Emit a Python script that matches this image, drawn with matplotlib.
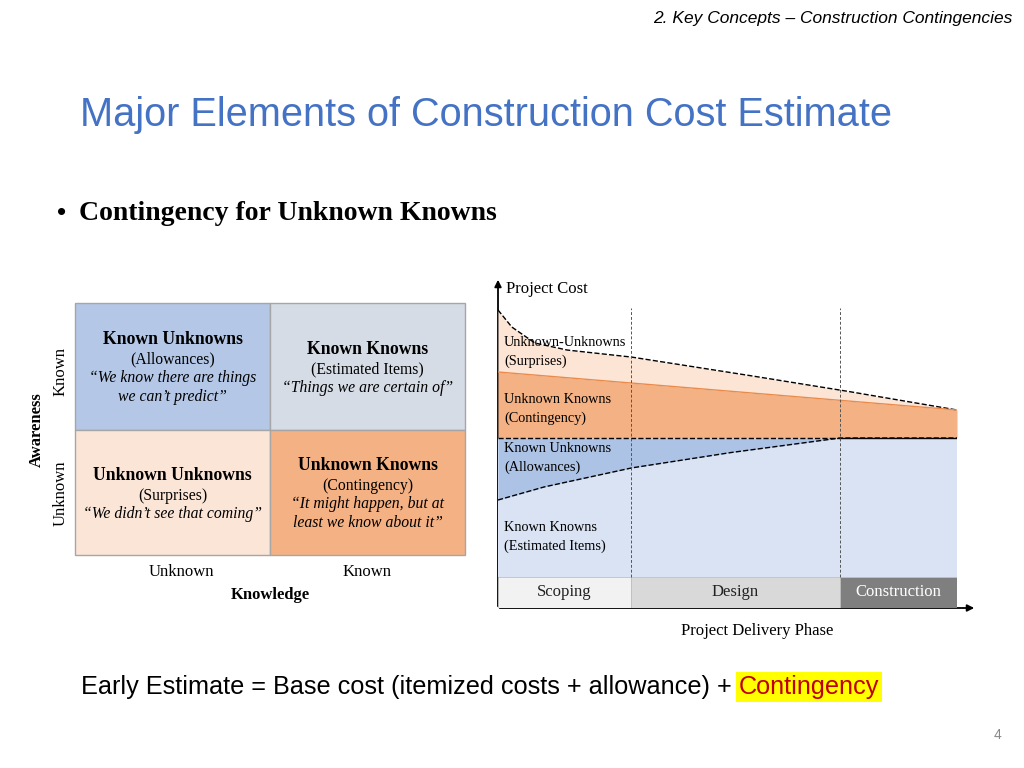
import matplotlib.pyplot as plt
from matplotlib.patches import Rectangle
import numpy as np

# phase boundaries (fraction of delivery timeline)
phases = ["Scoping", "Design", "Construction"]
phase_edges = [0.0, 0.29, 0.745, 1.0]
phase_colors = ["#f2f2f2", "#d9d9d9", "#7f7f7f"]
phase_text = ["#222222", "#222222", "white"]

# cost curves (arbitrary units)
base_level = 139
x_allow = [0.0, 0.1, 0.29, 0.5, 0.745, 1.0]
allow_low = [77, 90, 109, 124, 139, 139]
x_cont = [0.0, 1.0]
cont_top = [205, 167]
x_surp = [0.0, 0.03, 0.08, 0.15, 0.29, 0.5, 0.745, 1.0]
surp_top = [267, 250, 234, 227, 220, 205, 187, 167]

quad_titles = ["Known Unknowns", "Known Knowns", "Unknown Unknowns", "Unknown Knowns"]
quad_sub = ["(Allowances)", "(Estimated Items)", "(Surprises)", "(Contingency)"]
quad_quote = ["\u201cWe know there are things\nwe can\u2019t predict\u201d",
              "\u201cThings we are certain of\u201d",
              "\u201cWe didn\u2019t see that coming\u201d",
              "\u201cIt might happen, but at\nleast we know about it\u201d"]
quad_colors = ["#b4c7e7", "#d6dce5", "#fbe5d6", "#f4b183"]

SERIF = "Liberation Serif"
SANS = "Liberation Sans"

fig = plt.figure(figsize=(10.24, 7.68), dpi=100)
ax = fig.add_axes([0, 0, 1, 1])
ax.set_xlim(0, 1024)
ax.set_ylim(768, 0)
ax.axis("off")

ax.text(1012, 18, "2. Key Concepts \u2013 Construction Contingencies", ha="right", va="center",
        fontsize=12.5, style="italic", family=SANS)
ax.text(80, 115, "Major Elements of Construction Cost Estimate", ha="left", va="center",
        fontsize=28.6, color="#4472c4", family=SANS)
ax.text(57, 213, "\u2022", ha="left", va="center", fontsize=19, family=SANS)
ax.text(79, 213, "Contingency for Unknown Knowns", ha="left", va="center",
        fontsize=20, weight="bold", family=SERIF)

# 2x2 matrix
xs = [75, 270, 465]
ys = [303, 430, 555]
for i in range(4):
    r, c = divmod(i, 2)
    x0, y0 = xs[c], ys[r]
    ax.add_patch(Rectangle((x0, y0), xs[c + 1] - x0, ys[r + 1] - y0, facecolor=quad_colors[i],
                           edgecolor="#a6a6a6", lw=1))
    cx = (x0 + xs[c + 1]) / 2
    cy = (y0 + ys[r + 1]) / 2
    nq = quad_quote[i].count("\n")
    top = cy - 17 - 10 * nq
    ax.text(cx, top, quad_titles[i], ha="center", va="center", fontsize=12.7, weight="bold", family=SERIF)
    ax.text(cx, top + 20, quad_sub[i], ha="center", va="center", fontsize=11.3, family=SERIF)
    ax.text(cx, top + 39 + 9 * nq, quad_quote[i], ha="center", va="center", fontsize=11.3,
            style="italic", family=SERIF, linespacing=1.3)
ax.text(181, 572, "Unknown", ha="center", va="center", fontsize=12, family=SERIF)
ax.text(367, 572, "Known", ha="center", va="center", fontsize=12, family=SERIF)
ax.text(270, 595, "Knowledge", ha="center", va="center", fontsize=12, weight="bold", family=SERIF)
ax.text(61, 372, "Known", ha="center", va="center", fontsize=12, rotation=90, family=SERIF)
ax.text(61, 493, "Unknown", ha="center", va="center", fontsize=12, rotation=90, family=SERIF)
ax.text(37, 430, "Awareness", ha="center", va="center", fontsize=12, rotation=90,
        weight="bold", family=SERIF)

# area chart
cax = fig.add_axes([498 / 1024, 1 - 608 / 768, (957 - 498) / 1024, (608 - 300) / 768])
cax.set_xlim(0, 1)
cax.set_ylim(-31, 277)
cax.axis("off")
xx = np.linspace(0, 1, 200)
a = np.interp(xx, x_allow, allow_low)
c_top = np.interp(xx, x_cont, cont_top)
s_top = np.interp(xx, x_surp, surp_top)
cax.fill_between(xx, 0, base_level, color="#dae3f3", lw=0)
cax.fill_between(xx, a, base_level, color="#adc3e6", lw=0)
cax.fill_between(xx, base_level, c_top, color="#f4b183", lw=0)
cax.fill_between(xx, c_top, s_top, color="#fde5d5", lw=0)
cax.plot(xx, a, "k--", lw=1)
cax.plot(xx, s_top, "k--", lw=1)
cax.plot(xx, c_top, color="#e98b4d", lw=1)
cax.plot([0, 0.745], [base_level, base_level], "k--", lw=1)
cax.plot([0.745, 1], [base_level, base_level], "k-", lw=1)
for xb in phase_edges[1:3]:
    cax.plot([xb, xb], [0, 269], color="#555555", ls=(0, (3, 2)), lw=0.7)
for i, name in enumerate(phases):
    x0, x1 = phase_edges[i], phase_edges[i + 1]
    cax.add_patch(Rectangle((x0, -31), x1 - x0, 31, facecolor=phase_colors[i], edgecolor="#bfbfbf", lw=0.6))
    cax.text((x0 + x1) / 2, -15.5, name, ha="center", va="center", fontsize=12,
             color=phase_text[i], family=SERIF)
lbl = [(267 - 42, "Unknown-Unknowns\n(Surprises)"), (205 - 37, "Unknown Knowns\n(Contingency)"),
       (139 - 20, "Known Unknowns\n(Allowances)"), (40, "Known Knowns\n(Estimated Items)")]
for y, t in lbl:
    cax.text(0.013, y, t, ha="left", va="center", fontsize=10.3, family=SERIF, linespacing=1.45)

# axes arrows
ax.annotate("", xy=(498, 277), xytext=(498, 609), arrowprops=dict(arrowstyle="-|>", color="black", lw=1.3))
ax.annotate("", xy=(977, 608), xytext=(497, 608), arrowprops=dict(arrowstyle="-|>", color="black", lw=1.3))
ax.text(506, 289, "Project Cost", ha="left", va="center", fontsize=12, family=SERIF)
ax.text(757, 631, "Project Delivery Phase", ha="center", va="center", fontsize=12, family=SERIF)

t = ax.text(81, 687, "Early Estimate = Base cost (itemized costs + allowance) + ", ha="left",
            va="center", fontsize=18.2, family=SANS)
ax.annotate("Contingency", xy=(1, 0.5), xycoords=t, ha="left", va="center",
            fontsize=18.2, family=SANS, color="#c00000",
            bbox=dict(facecolor="yellow", edgecolor="none", pad=2))
ax.text(997, 735, "4", ha="center", va="center", fontsize=10, color="#888888", family=SANS)

fig.savefig("out.png", dpi=100)
